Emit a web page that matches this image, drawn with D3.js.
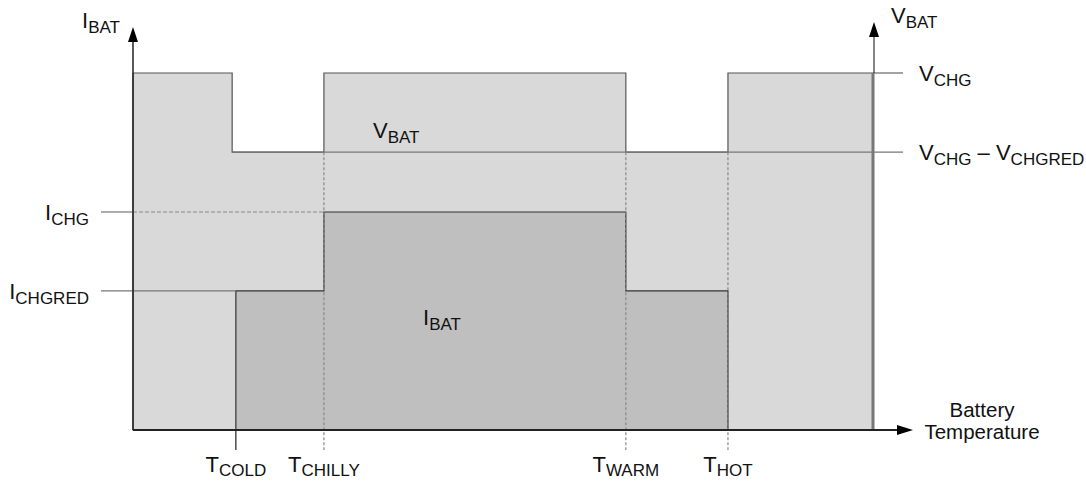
<!DOCTYPE html>
<html>
<head>
<meta charset="utf-8">
<script src="https://cdn.jsdelivr.net/npm/d3@7"></script>
<style>
  body { margin: 0; background: #fff; }
  svg text { font-family: "Liberation Sans", Arial, Helvetica, sans-serif; fill: #111; }
</style>
</head>
<body>
<svg id="chart" width="1086" height="482"></svg>
<script>
// Temperature thresholds (x positions on an arbitrary 0..100 temperature scale)
const tempNames = ["COLD", "CHILLY", "WARM", "HOT"];
const tempValues = [13.9, 25.8, 66.6, 80.4];

// Battery voltage profile (step changes)
const vbatSteps = [0, 13.4, 25.8, 66.6, 80.4, 100];
const vbatValues = [87.5, 68.1, 87.5, 68.1, 87.5];

// Battery current profile (step changes)
const ibatSteps = [13.9, 25.8, 66.6, 80.4];
const ibatValues = [34.5, 54.1, 34.5];

// Level labels
const vLevels = [
  { main: "V", sub: "CHG", value: 87.5 },
  { main: "V", sub: "CHG", extra: " \u2013 V", sub2: "CHGRED", value: 68.1 }
];
const iLevels = [
  { main: "I", sub: "CHG", value: 54.1 },
  { main: "I", sub: "CHGRED", value: 34.5 }
];

const svg = d3.select("#chart");

let x = d3.scaleLinear().domain([0, 100]).range([133, 873]);
let yI = d3.scaleLinear().domain([0, 100]).range([430, 27]);
let yV = d3.scaleLinear().domain([0, 100]).range([430, 22]);

// helper for labels with subscripts
function label(px, py, main, sub, anchor, extra, sub2, shift) {
  let s = shift || 5;
  let t = svg.append("text")
    .attr("x", px).attr("y", py)
    .attr("text-anchor", anchor)
    .style("font-size", "22px");
  t.append("tspan").text(main);
  t.append("tspan").attr("dy", s).style("font-size", "17px").text(sub);
  if (extra) {
    t.append("tspan").attr("dy", -s).text(extra);
    t.append("tspan").attr("dy", s).style("font-size", "17px").text(sub2);
  }
  return t;
}

// step areas
function stepPoints(steps, vals) {
  let pts = vals.map((v, i) => [steps[i], v]);
  pts.push([steps[steps.length - 1], vals[vals.length - 1]]);
  return pts;
}

let vArea = d3.area()
  .curve(d3.curveStepAfter)
  .x(d => x(d[0]))
  .y0(yV(0))
  .y1(d => yV(d[1]));

let iArea = d3.area()
  .curve(d3.curveStepAfter)
  .x(d => x(d[0]))
  .y0(yI(0))
  .y1(d => yI(d[1]));

svg.append("path")
  .datum(stepPoints(vbatSteps, vbatValues))
  .attr("d", vArea)
  .attr("fill", "#d9d9d9")
  .attr("stroke", "#555")
  .attr("stroke-width", 1.2);

// V_CHG - V_CHGRED reference line across the plot
let vRed = vLevels[1].value;
svg.append("line")
  .attr("x1", x(vbatSteps[1])).attr("x2", x(100) + 30)
  .attr("y1", yV(vRed)).attr("y2", yV(vRed))
  .attr("stroke", "#777").attr("stroke-width", 1.2);

svg.append("path")
  .datum(stepPoints(ibatSteps, ibatValues))
  .attr("d", iArea)
  .attr("fill", "#bfbfbf")
  .attr("stroke", "#333")
  .attr("stroke-width", 1.2);

// V_CHG tick
svg.append("line")
  .attr("x1", x(100)).attr("x2", x(100) + 30)
  .attr("y1", yV(vLevels[0].value)).attr("y2", yV(vLevels[0].value))
  .attr("stroke", "#666").attr("stroke-width", 1.2);

// I_CHGRED line and I_CHG tick + dashed guide
let iRed = iLevels[1].value, iChg = iLevels[0].value;
svg.append("line")
  .attr("x1", x(0) - 32).attr("x2", x(ibatSteps[0]))
  .attr("y1", yI(iRed)).attr("y2", yI(iRed))
  .attr("stroke", "#777").attr("stroke-width", 1.2);
svg.append("line")
  .attr("x1", x(0) - 32).attr("x2", x(0))
  .attr("y1", yI(iChg)).attr("y2", yI(iChg))
  .attr("stroke", "#777").attr("stroke-width", 1.2);
svg.append("line")
  .attr("x1", x(0)).attr("x2", x(tempValues[1]))
  .attr("y1", yI(iChg)).attr("y2", yI(iChg))
  .attr("stroke", "#888").attr("stroke-width", 1.2)
  .attr("stroke-dasharray", "4,2");

// vertical dashed guides for CHILLY, WARM, HOT
tempValues.forEach((t, i) => {
  if (i === 0) {
    svg.append("line")
      .attr("x1", x(t)).attr("x2", x(t))
      .attr("y1", yI(0)).attr("y2", yI(0) + 20)
      .attr("stroke", "#222").attr("stroke-width", 1.2);
  } else {
    svg.append("line")
      .attr("x1", x(t)).attr("x2", x(t))
      .attr("y1", yV(vRed)).attr("y2", yI(0) + 20)
      .attr("stroke", "#888").attr("stroke-width", 1.2)
      .attr("stroke-dasharray", "3,2");
  }
});

// right edge (thick) of the V_BAT area
svg.append("line")
  .attr("x1", x(100)).attr("x2", x(100))
  .attr("y1", yV(vbatValues[vbatValues.length - 1])).attr("y2", yV(0))
  .attr("stroke", "#777").attr("stroke-width", 3);

// axes with arrows
svg.append("line")
  .attr("x1", x(0)).attr("x2", x(0))
  .attr("y1", yI(0)).attr("y2", yI(100) + 12)
  .attr("stroke", "#222").attr("stroke-width", 1.5);
svg.append("path")
  .attr("d", `M${x(0)},${yI(100)} L${x(0) - 5},${yI(100) + 15} L${x(0) + 5},${yI(100) + 15} Z`)
  .attr("fill", "#000");

svg.append("line")
  .attr("x1", x(100) + 1).attr("x2", x(100) + 1)
  .attr("y1", yV(vLevels[0].value)).attr("y2", yV(100) + 12)
  .attr("stroke", "#333").attr("stroke-width", 1.2);
svg.append("path")
  .attr("d", `M${x(100) + 1},${yV(100)} L${x(100) - 4},${yV(100) + 15} L${x(100) + 6},${yV(100) + 15} Z`)
  .attr("fill", "#000");

svg.append("line")
  .attr("x1", x(0)).attr("x2", x(100) + 26)
  .attr("y1", yI(0)).attr("y2", yI(0))
  .attr("stroke", "#222").attr("stroke-width", 2);
svg.append("path")
  .attr("d", `M${x(100) + 40},${yI(0)} L${x(100) + 24},${yI(0) - 5} L${x(100) + 24},${yI(0) + 5} Z`)
  .attr("fill", "#000");

// axis titles
label(82, 28, "I", "BAT", "start");
label(891, 23, "V", "BAT", "start");
svg.append("text").attr("x", 982).attr("y", 417).attr("text-anchor", "middle")
  .style("font-size", "20.5px").text("Battery");
svg.append("text").attr("x", 982).attr("y", 439).attr("text-anchor", "middle")
  .style("font-size", "20.5px").text("Temperature");

// level labels
vLevels.forEach(d => {
  label(x(100) + 46, yV(d.value) + 8, d.main, d.sub, "start", d.extra, d.sub2);
});
iLevels.forEach(d => {
  label(89, yI(d.value) + 8, d.main, d.sub, "end");
});

// temperature labels
tempNames.forEach((n, i) => {
  label(x(tempValues[i]), 472, "T", n, "middle", null, null, 4);
});

// series labels inside the areas
label(373, 138, "V", "BAT", "start");
label(423, 325, "I", "BAT", "start");
</script>
</body>
</html>
